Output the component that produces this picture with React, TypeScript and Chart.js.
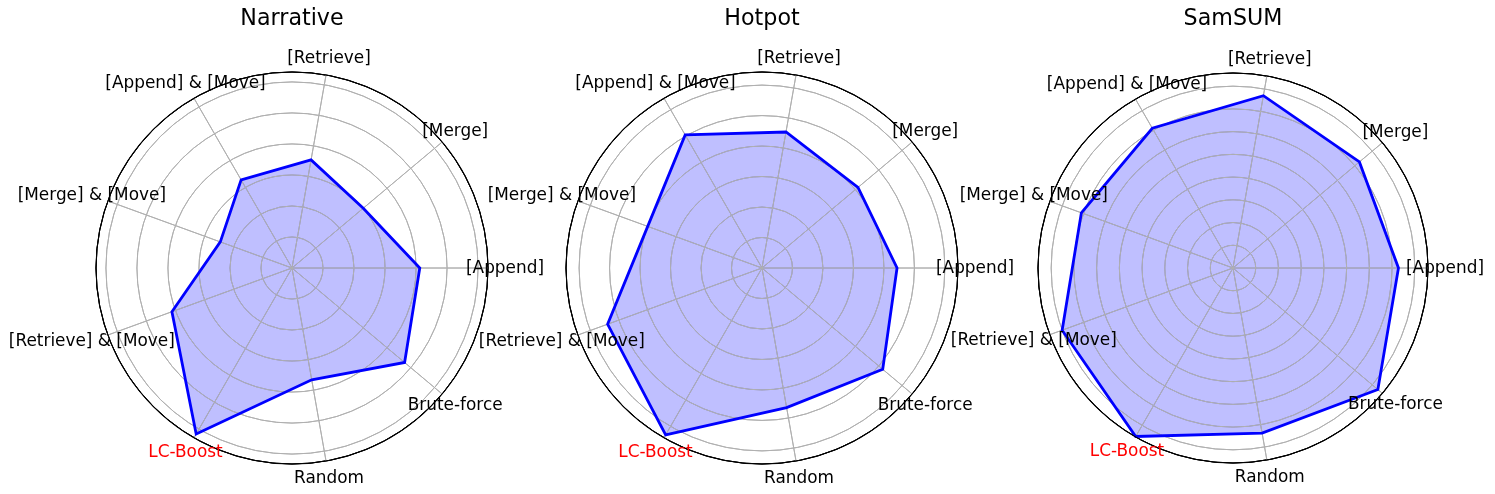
import React, { useEffect, useRef } from "react";
import { Chart, registerables } from "chart.js";

Chart.register(...registerables);

// Categories in counter-clockwise order, starting at 3 o'clock
const categories = [
  "[Append]",
  "[Merge]",
  "[Retrieve]",
  "[Append] & [Move]",
  "[Merge] & [Move]",
  "[Retrieve] & [Move]",
  "LC-Boost",
  "Random",
  "Brute-force",
];
const highlightedCategory = "LC-Boost";

const narrativeValues = [20.6, 15.0, 17.7, 16.4, 12.3, 20.6, 30.9, 18.3, 23.7];
const hotpotValues = [44.3, 41.1, 45.3, 50.4, 39.9, 53.9, 63.2, 46.5, 51.7];
const samsumValues = [36.4, 36.3, 38.5, 35.5, 35.5, 40.0, 42.8, 36.9, 41.6];

const narrativeGrid = [5, 10, 15, 20, 25, 30];
const hotpotGrid = [10, 20, 30, 40, 50, 60];
const samsumGrid = [5, 10, 15, 20, 25, 30, 35, 40];

const narrativeMax = 31.6;
const hotpotMax = 64.3;
const samsumMax = 42.9;

const panels = [
  { title: "Narrative", values: narrativeValues, grid: narrativeGrid, max: narrativeMax, cx: 292, cy: 268, radius: 196 },
  { title: "Hotpot", values: hotpotValues, grid: hotpotGrid, max: hotpotMax, cx: 762, cy: 268, radius: 196 },
  { title: "SamSUM", values: samsumValues, grid: samsumGrid, max: samsumMax, cx: 1233, cy: 268, radius: 195 },
];

const CANVAS_W = 600;
const CANVAS_H = 494;
const FONT = '"DejaVu Sans", "Liberation Sans", sans-serif';
const TITLE_SIZE = 22.2;
const LABEL_SIZE = 16.9;
const TITLE_PAD_TOP = 5.8;
const GRID_COLOR = "#b0b0b0";

// Chart.js goes clockwise; keep first element, reverse the rest
const clockwise = <T,>(arr: T[]): T[] => [arr[0], ...arr.slice(1).reverse()];

const polarPlugin = {
  id: "polarDecor",
  beforeDatasetDraw(chart: any, args: any) {
    const ds = chart.data.datasets[args.index];
    if (ds && ds.label === "outline") {
      // grid lines sit above the translucent fill, below the outline
      chart.scales.r.drawGrid();
    }
  },
  afterDatasetsDraw(chart: any) {
    const scale = chart.scales.r;
    const ctx = chart.ctx;
    ctx.save();
    ctx.beginPath();
    ctx.arc(scale.xCenter, scale.yCenter, scale.drawingArea, 0, Math.PI * 2);
    ctx.strokeStyle = "#000000";
    ctx.lineWidth = 1.1;
    ctx.stroke();
    ctx.restore();
  },
  afterDraw(chart: any) {
    const scale = chart.scales.r;
    const ctx = chart.ctx;
    ctx.save();
    ctx.font = `${LABEL_SIZE}px ${FONT}`;
    ctx.textAlign = "center";
    ctx.textBaseline = "middle";
    (chart.data.labels as string[]).forEach((lab, i) => {
      const p = scale.getPointPosition(i, scale.drawingArea + 17);
      ctx.fillStyle = lab === highlightedCategory ? "#ff0000" : "#000000";
      ctx.fillText(lab, p.x, p.y + 0.5);
    });
    ctx.restore();
  },
};

function RadarPanel({ panel }: { panel: (typeof panels)[number] }) {
  const ref = useRef<HTMLCanvasElement | null>(null);

  useEffect(() => {
    if (!ref.current) return;
    const R = panel.radius;
    const localCy = panel.cy;
    const chartTop = localCy - R;
    const titleLine = TITLE_SIZE * 1.2;
    const titlePadBottom = chartTop - TITLE_PAD_TOP - titleLine;
    const padLR = CANVAS_W / 2 - R;
    const padBottom = CANVAS_H - localCy - R;
    const labels = clockwise(categories);
    const values = clockwise(panel.values);
    const tickValues = [0, ...panel.grid, panel.max];

    const chart = new Chart(ref.current, {
      type: "radar",
      data: {
        labels,
        datasets: [
          {
            label: "outline",
            data: values,
            fill: false,
            borderColor: "#0000ff",
            borderWidth: 2.8,
            pointRadius: 0,
            pointHoverRadius: 0,
            tension: 0,
            order: 0,
          },
          {
            label: "area",
            data: values,
            fill: true,
            backgroundColor: "rgba(0,0,255,0.25)",
            borderWidth: 0,
            borderColor: "rgba(0,0,0,0)",
            pointRadius: 0,
            pointHoverRadius: 0,
            tension: 0,
            order: 1,
          },
        ],
      },
      options: {
        responsive: false,
        maintainAspectRatio: false,
        devicePixelRatio: 1,
        animation: false,
        events: [],
        layout: {
          padding: { top: 0, bottom: padBottom, left: padLR, right: padLR },
        },
        plugins: {
          legend: { display: false },
          tooltip: { enabled: false },
          title: {
            display: true,
            text: panel.title,
            color: "#000000",
            font: { family: FONT, size: TITLE_SIZE, weight: "normal" as any },
            padding: { top: TITLE_PAD_TOP, bottom: titlePadBottom },
          },
        },
        scales: {
          r: {
            min: 0,
            max: panel.max,
            startAngle: 90,
            afterBuildTicks: (axis: any) => {
              axis.ticks = tickValues.map((v) => ({ value: v }));
            },
            ticks: { display: false },
            pointLabels: { display: false },
            grid: {
              circular: true,
              color: (ctx: any) =>
                ctx.tick && Math.abs(ctx.tick.value - panel.max) < 1e-9 ? "#000000" : GRID_COLOR,
              lineWidth: 1,
            },
            angleLines: { display: true, color: GRID_COLOR, lineWidth: 1 },
          },
        },
      },
      plugins: [polarPlugin],
    });
    return () => chart.destroy();
  }, [panel]);

  return (
    <canvas
      ref={ref}
      width={CANVAS_W}
      height={CANVAS_H}
      style={{
        position: "absolute",
        left: panel.cx - CANVAS_W / 2,
        top: 0,
        width: CANVAS_W,
        height: CANVAS_H,
      }}
    />
  );
}

export default function App() {
  return (
    <div
      style={{
        position: "absolute",
        left: 0,
        top: 0,
        width: 1495,
        height: 494,
        overflow: "hidden",
        background: "#ffffff",
      }}
    >
      {panels.map((p) => (
        <RadarPanel key={p.title} panel={p} />
      ))}
    </div>
  );
}
